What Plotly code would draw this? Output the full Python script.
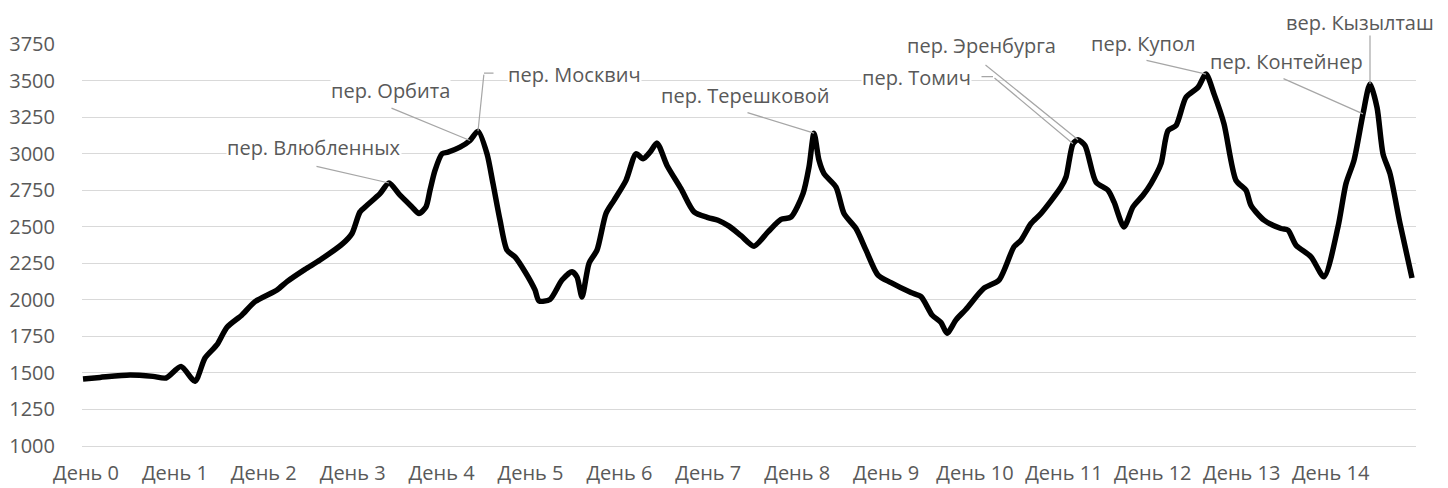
import plotly.graph_objects as go

# distance along route (km-like units) and elevation, m
dist = [0.0, 1.7, 4.7, 7.0, 8.3, 9.8, 11.2, 12.2, 13.4, 14.4, 15.9, 17.2, 19.4, 20.4, 22.2,
        23.7, 26.0, 26.9, 27.7, 28.4, 29.7, 30.6, 31.7, 32.9, 33.6, 34.3, 34.7, 35.2, 35.9,
        36.5, 37.7, 38.7, 39.5, 40.4, 41.0, 41.7, 42.4, 43.2, 44.2, 45.2, 45.6, 46.7, 47.9,
        48.9, 49.4, 49.9, 50.6, 51.4, 52.3, 53.1, 54.3, 55.3, 56.0, 56.7, 57.4, 58.4, 59.8,
        61.1, 62.5, 63.5, 64.6, 65.8, 67.1, 68.5, 69.8, 70.8, 72.0, 72.6, 73.1, 73.6, 74.1,
        75.3, 76.1, 77.3, 78.3, 79.5, 80.8, 82.8, 83.8, 84.9, 85.8, 86.4, 87.3, 88.3, 90.1,
        91.6, 93.1, 93.8, 94.8, 95.8, 97.8, 98.3, 99.0, 99.5, 100.2, 101.3, 102.5, 103.1,
        104.1, 105.0, 106.0, 106.8, 107.8, 108.5, 109.3, 110.3, 111.5, 112.3, 113.1, 114.1,
        115.3, 116.3, 116.8, 118.1, 119.8, 120.5, 121.3, 122.8, 124.1, 125.5, 126.3, 127.1,
        128.0, 128.7, 129.4, 130.0, 130.7, 131.7, 132.9]
elev = [1457, 1468, 1485, 1475, 1464, 1543, 1442, 1601, 1692, 1812, 1896, 1987, 2067, 2124, 2208,
        2272, 2386, 2454, 2602, 2647, 2727, 2800, 2716, 2636, 2591, 2636, 2750, 2886, 3000,
        3011, 3045, 3091, 3155, 3000, 2796, 2545, 2340, 2294, 2192, 2067, 1992, 2002, 2135,
        2192, 2156, 2019, 2249, 2340, 2591, 2681, 2818, 3000, 2966, 3011, 3073, 2920, 2761,
        2602, 2563, 2545, 2504, 2439, 2367, 2465, 2550, 2567, 2727, 2909, 3141, 2955, 2864,
        2772, 2591, 2488, 2340, 2169, 2117, 2049, 2021, 1896, 1844, 1771, 1862, 1935, 2079,
        2135, 2363, 2408, 2522, 2591, 2772, 2841, 3069, 3096, 3057, 2806, 2750, 2670,
        2499, 2636, 2716, 2796, 2932, 3159, 3193, 3387, 3455, 3546, 3410, 3205,
        2818, 2750, 2647, 2545, 2488, 2477, 2374, 2294, 2158, 2499, 2796, 2955,
        3273, 3478, 3318, 3000, 2864, 2522, 2149]

day_pos = [0.3, 9.19, 18.08, 26.97, 35.86, 44.75, 53.64, 62.53, 71.42, 80.31, 89.2, 98.09,
           106.98, 115.87, 124.76]
day_labels = ["День %d" % i for i in range(15)]

# pass labels: text, anchor point (dist, elev)
pass_names = ["пер. Влюбленных", "пер. Орбита", "пер. Москвич", "пер. Терешковой",
              "пер. Томич", "пер. Эренбурга", "пер. Купол", "пер. Контейнер", "вер. Кызылташ"]
pass_x = [30.6, 38.7, 39.5, 73.1, 99.0, 99.5, 112.3, 128.0, 128.7]
pass_y = [2800, 3091, 3155, 3141, 3069, 3096, 3546, 3273, 3478]
# label placement (pixels): text shift, leader tail offset, optional elbow stub
txt_shift = [(-75, 35), (-80, 50), (96, 57), (-69, 38), (-157, 66), (-97, 94), (-63, 31), (-77, 52), (-10, 62)]
lead_tail = [(-74, -17), (-80, -33), (6, -58), (-68, -21), (-80, -67), (-94, -76), (-61, -14), (-81, -36), (0, -50)]
elbow = [None, None, (11, 0), None, (-13, 0), None, None, None, None]
label_bg = ["white", "white", "white", "white", "white", "white", "white", None, "white"]

TXT = "#595959"
LEAD = "#a6a6a6"
GRID = "#d9d9d9"
FONT = "Open Sans"

fig = go.Figure()
fig.add_trace(go.Scatter(x=dist, y=elev, mode="lines",
                         line=dict(color="black", width=5.5, shape="spline", smoothing=0.7),
                         hoverinfo="skip", showlegend=False))

ann = []
for name, px, py, (sx, sy), (tx, ty), el, bg in zip(pass_names, pass_x, pass_y, txt_shift,
                                                    lead_tail, elbow, label_bg):
    ann.append(dict(x=px, y=py, xref="x", yref="y", text=name, showarrow=False,
                    xshift=sx, yshift=sy, bgcolor=bg if bg else "rgba(0,0,0,0)", borderpad=0,
                    font=dict(family=FONT, size=20, color=TXT)))
    ann.append(dict(x=px, y=py, xref="x", yref="y", text="", showarrow=True, arrowhead=0,
                    arrowwidth=1.2, arrowcolor=LEAD, ax=tx, ay=ty, standoff=0, startstandoff=0))
    if el is not None:
        ann.append(dict(x=px, y=py, xref="x", yref="y", text="", showarrow=True, arrowhead=0,
                        arrowwidth=1.2, arrowcolor=LEAD, ax=el[0], ay=el[1],
                        xshift=tx, yshift=-ty, standoff=0, startstandoff=0))

fig.update_layout(
    width=1448, height=488,
    margin=dict(l=82, r=32, t=44, b=42, autoexpand=False),
    paper_bgcolor="white", plot_bgcolor="white",
    font=dict(family=FONT, size=20, color=TXT),
    annotations=ann,
    showlegend=False,
)
fig.update_xaxes(range=[-0.1, 133.3], tickmode="array", tickvals=day_pos, ticktext=day_labels,
                 showgrid=False, zeroline=False, showline=True, linecolor=GRID, linewidth=1.3,
                 ticks="", automargin=False,
                 tickfont=dict(family=FONT, size=20, color=TXT), ticklabelstandoff=9)
fig.update_yaxes(range=[998, 3752], dtick=250, tick0=1000, showgrid=True, gridcolor=GRID,
                 gridwidth=1.3, zeroline=False, showline=False, ticks="", automargin=False,
                 tickfont=dict(family=FONT, size=20, color=TXT), ticklabelstandoff=26)

fig.write_html("out.html", config={"displayModeBar": False},
               post_script="document.body.style.margin='0';")
